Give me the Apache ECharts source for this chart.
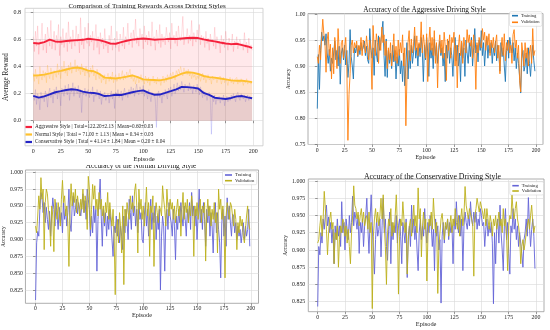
<!DOCTYPE html>
<html><head><meta charset="utf-8">
<script src="https://cdn.jsdelivr.net/npm/echarts@6/dist/echarts.min.js"></script>
<style>html,body{margin:0;padding:0;background:#fff}#c{width:550px;height:330px}</style>
</head><body><div id="c"></div>
<script>
// ---------- Panel 1 : rewards ----------
const rewardTicks = [0, 0.2, 0.4, 0.6, 0.8];
const episodeTicks = [0, 25, 50, 75, 100, 125, 150, 175, 200];
const smoothEpisodes = [0,5,10,15,20,25,30,35,40,45,50,55,60,65,70,75,80,85,90,95,100,105,110,115,120,125,130,135,140,145,150,155,160,165,170,175,180,185,190,195,199];
const aggSmooth = [0.573,0.570,0.580,0.598,0.585,0.583,0.588,0.592,0.595,0.597,0.605,0.600,0.595,0.583,0.570,0.568,0.580,0.590,0.598,0.603,0.607,0.603,0.598,0.600,0.602,0.605,0.603,0.607,0.610,0.612,0.610,0.600,0.592,0.585,0.577,0.570,0.565,0.568,0.558,0.548,0.537];
const norSmooth = [0.334,0.336,0.340,0.349,0.360,0.368,0.378,0.388,0.393,0.385,0.370,0.365,0.345,0.318,0.315,0.312,0.318,0.325,0.334,0.322,0.305,0.302,0.300,0.298,0.305,0.315,0.330,0.348,0.358,0.355,0.345,0.330,0.322,0.318,0.312,0.305,0.298,0.295,0.295,0.290,0.285];
const conSmooth = [0.183,0.170,0.180,0.195,0.210,0.218,0.227,0.232,0.228,0.215,0.207,0.205,0.197,0.182,0.185,0.192,0.190,0.200,0.210,0.218,0.224,0.205,0.192,0.193,0.205,0.218,0.232,0.250,0.248,0.244,0.238,0.205,0.190,0.170,0.165,0.160,0.168,0.180,0.182,0.172,0.166];
const aggRaw = [
0.62,0.51,0.66,0.55,0.70,0.49,0.60,0.58,0.72,0.52,
0.57,0.64,0.50,0.69,0.61,0.55,0.74,0.53,0.59,0.66,
0.52,0.63,0.57,0.71,0.48,0.62,0.56,0.68,0.54,0.60,
0.65,0.51,0.73,0.57,0.62,0.53,0.67,0.59,0.55,0.70,
0.58,0.64,0.50,0.76,0.56,0.61,0.53,0.69,0.60,0.57,
0.72,0.55,0.63,0.58,0.66,0.52,0.60,0.71,0.54,0.62,
0.49,0.65,0.57,0.61,0.53,0.68,0.55,0.59,0.50,0.63,
0.56,0.70,0.52,0.58,0.61,0.54,0.66,0.57,0.51,0.64,
0.59,0.55,0.69,0.53,0.62,0.58,0.72,0.56,0.60,0.65,
0.54,0.67,0.59,0.75,0.57,0.62,0.55,0.68,0.60,0.64,
0.53,0.70,0.58,0.63,0.56,0.66,0.61,0.55,0.73,0.59,
0.62,0.52,0.67,0.60,0.57,0.71,0.54,0.64,0.58,0.62,
0.56,0.69,0.61,0.58,0.65,0.53,0.72,0.60,0.63,0.57,
0.66,0.55,0.70,0.61,0.59,0.64,0.77,0.56,0.62,0.60,
0.68,0.57,0.63,0.59,0.74,0.55,0.65,0.61,0.58,0.67,
0.60,0.71,0.56,0.63,0.59,0.62,0.54,0.66,0.57,0.61,
0.52,0.64,0.58,0.60,0.55,0.69,0.53,0.62,0.57,0.59,
0.50,0.63,0.56,0.60,0.54,0.66,0.58,0.52,0.61,0.57,
0.55,0.64,0.51,0.59,0.56,0.62,0.53,0.58,0.60,0.55,
0.57,0.52,0.65,0.54,0.58,0.50,0.61,0.53,0.56,0.52];
const norRaw = [
0.35,0.29,0.38,0.31,0.34,0.27,0.40,0.33,0.30,0.37,
0.32,0.36,0.28,0.41,0.34,0.31,0.39,0.35,0.30,0.37,
0.36,0.32,0.42,0.34,0.38,0.31,0.40,0.36,0.44,0.35,
0.39,0.33,0.41,0.37,0.43,0.35,0.40,0.38,0.45,0.36,
0.41,0.37,0.39,0.34,0.42,0.36,0.38,0.33,0.40,0.35,
0.37,0.32,0.39,0.35,0.41,0.33,0.36,0.30,0.38,0.34,
0.31,0.35,0.28,0.33,0.30,0.34,0.27,0.32,0.35,0.29,
0.33,0.30,0.36,0.28,0.32,0.34,0.29,0.31,0.35,0.30,
0.33,0.37,0.30,0.34,0.31,0.36,0.32,0.35,0.38,0.31,
0.34,0.29,0.32,0.27,0.31,0.33,0.28,0.30,0.34,0.29,
0.31,0.27,0.33,0.30,0.28,0.32,0.26,0.31,0.29,0.33,
0.28,0.30,0.27,0.32,0.29,0.31,0.26,0.30,0.33,0.28,
0.32,0.29,0.34,0.31,0.30,0.35,0.32,0.36,0.33,0.30,
0.37,0.34,0.38,0.35,0.40,0.36,0.33,0.39,0.35,0.37,
0.34,0.38,0.33,0.36,0.31,0.35,0.32,0.34,0.30,0.33,
0.31,0.34,0.29,0.32,0.35,0.30,0.33,0.28,0.31,0.34,
0.30,0.32,0.27,0.33,0.30,0.29,0.32,0.28,0.31,0.30,
0.33,0.27,0.30,0.32,0.28,0.31,0.29,0.26,0.30,0.32,
0.28,0.31,0.27,0.30,0.29,0.32,0.27,0.30,0.28,0.31,
0.29,0.26,0.30,0.28,0.31,0.27,0.29,0.30,0.27,0.28];
const conRaw = [
0.19,0.15,0.23,0.12,0.20,0.17,0.08,0.21,0.16,0.19,
0.14,0.22,0.18,0.10,0.20,0.24,0.17,0.21,0.13,0.23,
0.19,0.25,0.16,0.22,0.20,0.11,0.24,0.21,0.18,0.26,
0.22,0.19,0.27,0.15,0.24,0.21,0.28,0.18,0.25,0.22,
0.20,0.26,0.17,0.23,0.06,0.22,0.19,0.24,0.18,0.21,
0.23,0.17,0.22,0.19,0.25,0.14,0.21,0.18,0.23,0.20,
0.16,0.22,0.12,0.19,0.17,0.21,0.15,0.18,0.20,0.13,
0.19,0.22,0.16,0.20,0.09,0.21,0.18,0.23,0.17,0.19,
0.22,0.15,0.20,0.24,0.18,0.21,0.17,0.23,0.19,0.25,
0.20,0.24,0.18,0.22,0.27,0.21,0.19,0.25,0.23,0.20,
0.26,0.18,0.22,0.20,0.16,0.23,0.19,0.14,0.21,0.18,
0.20,0.15,-0.05,0.19,0.22,0.17,0.20,0.13,0.21,0.18,
0.23,0.19,0.16,0.24,0.21,0.25,0.18,0.22,0.27,0.20,
0.24,0.28,0.22,0.26,0.23,0.29,0.25,0.21,0.27,0.24,
0.26,0.22,0.28,0.23,0.25,0.20,0.26,0.24,0.21,0.27,
0.23,0.19,0.25,0.21,0.17,0.22,0.18,0.20,0.15,0.19,
0.21,0.16,-0.10,0.18,0.14,0.19,0.12,0.17,0.15,0.18,
0.13,0.17,0.15,0.19,0.11,0.16,0.18,0.14,0.17,0.15,
0.19,0.16,0.20,0.17,0.14,0.19,0.21,0.17,0.15,0.20,
0.18,0.16,0.19,0.14,0.17,0.19,0.15,0.18,0.16,0.17];
const rewardLegend = [
 'Aggressive Style | Total=122.20±2.13 | Mean=0.60±0.03',
 'Normal Style | Total = 71.00 ± 1.13 | Mean = 0.34 ± 0.03',
 'Conservative Style | Total = 41.14 ± 1.84 | Mean = 0.20 ± 0.04'];

// ---------- Panel 2 : aggressive accuracy ----------
const aggTicks = [0.75, 0.80, 0.85, 0.90, 0.95, 1.00];
const aggTrain = [
0.818,0.922,0.855,0.930,0.965,0.948,0.958,0.940,0.962,0.925,
0.905,0.932,0.890,0.915,0.905,0.925,0.948,0.912,0.930,0.900,
0.938,0.865,0.925,0.935,0.912,0.940,0.902,0.930,0.878,0.905,
0.970,0.918,0.900,0.875,0.935,0.925,0.940,0.918,0.938,0.922,
0.945,0.930,0.935,0.948,0.920,0.938,0.912,0.905,0.972,0.935,
0.915,0.935,0.882,0.950,0.925,0.908,0.958,0.930,0.945,0.965,
0.986,0.920,0.880,0.952,0.878,0.930,0.905,0.925,0.895,0.940,
0.908,0.930,0.875,0.918,0.900,0.932,0.885,0.910,0.870,0.925,
0.862,0.900,0.945,0.875,0.930,0.895,0.940,0.905,0.925,0.958,
0.915,0.935,0.900,0.942,0.918,0.955,0.930,0.870,0.940,0.912,
0.955,0.925,0.880,0.945,0.915,0.935,0.895,0.952,0.920,0.940,
0.905,0.930,0.948,0.920,0.935,0.900,0.925,0.870,0.940,0.915,
0.948,0.905,0.935,0.920,0.880,0.932,0.955,0.910,0.940,0.900,
0.925,0.870,0.945,0.915,0.935,0.880,0.950,0.925,0.905,0.945,
0.918,0.955,0.900,0.935,0.972,0.925,0.940,0.908,0.950,0.930,
0.968,0.920,0.945,0.900,0.935,0.955,0.915,0.940,0.925,0.945,
0.905,0.935,0.920,0.948,0.910,0.940,0.925,0.890,0.945,0.918,
0.935,0.900,0.870,0.930,0.950,0.915,0.955,0.940,0.925,0.945,
0.910,0.935,0.895,0.925,0.905,0.880,0.848,0.915,0.930,0.890,
0.900,0.925,0.885,0.935,0.905,0.880,0.915,0.940,0.910,0.890];
const aggVal = [
0.918,0.905,0.940,0.912,0.955,0.990,0.962,0.945,0.888,0.950,
0.965,0.920,0.942,0.875,0.935,0.885,0.955,0.928,0.895,0.972,
0.930,0.905,0.945,0.950,0.915,0.935,0.955,0.900,0.757,0.845,
0.885,0.940,0.950,0.925,0.945,0.935,0.948,0.920,0.940,0.930,
0.955,0.920,0.950,0.940,0.925,0.958,0.935,0.912,0.950,0.930,
0.855,0.978,0.935,0.920,0.962,0.945,0.905,0.955,0.930,0.975,
0.945,0.960,0.920,0.948,0.895,0.935,0.912,0.945,0.900,0.928,
0.962,0.910,0.938,0.905,0.950,0.920,0.945,0.925,0.960,0.900,
0.935,0.785,0.880,0.945,0.968,0.910,0.952,0.925,0.940,0.975,
0.930,0.958,0.920,0.945,0.935,0.985,0.925,0.960,0.940,0.915,
0.962,0.870,0.945,0.975,0.930,0.955,0.920,0.968,0.905,0.945,
0.858,0.935,0.960,0.925,0.950,0.915,0.965,0.938,0.872,0.952,
0.930,0.960,0.915,0.955,0.945,0.965,0.900,0.940,0.858,0.935,
0.960,0.920,0.948,0.905,0.955,0.935,0.925,0.970,0.945,0.960,
0.938,0.950,0.915,0.960,0.930,0.855,0.945,0.925,0.955,0.940,
0.935,0.972,0.950,0.965,0.930,0.958,0.940,0.962,0.920,0.950,
0.935,0.955,0.925,0.945,0.960,0.915,0.940,0.885,0.935,0.955,
0.920,0.962,0.910,0.945,0.930,0.950,0.925,0.940,0.905,0.960,
0.970,0.935,0.950,0.915,0.940,0.872,0.850,0.945,0.925,0.900,
0.945,0.915,0.935,0.900,0.925,0.940,0.905,0.972,0.920,0.930];

// ---------- Panel 3 : normal accuracy ----------
const fineTicks = [0.825, 0.850, 0.875, 0.900, 0.925, 0.950, 0.975, 1.000];
const norTrain = [
0.810,0.895,0.912,0.905,0.945,0.970,0.962,0.940,0.955,0.925,
0.948,0.930,0.915,0.942,0.905,0.935,0.962,0.945,0.920,0.955,
0.935,0.915,0.948,0.925,0.940,0.910,0.955,0.930,0.945,0.920,
0.940,0.975,0.925,0.912,0.950,0.965,0.935,0.945,0.960,0.938,
0.955,0.945,0.935,0.950,0.968,0.940,0.958,0.930,0.975,0.960,
0.945,0.905,0.935,0.910,0.950,0.925,0.945,0.853,0.930,0.960,
0.990,0.935,0.890,0.945,0.920,0.940,0.905,0.935,0.915,0.945,
0.925,0.900,0.875,0.920,0.910,0.935,0.905,0.930,0.895,0.920,
0.905,0.885,0.935,0.910,0.945,0.925,0.900,0.960,0.940,0.915,
0.965,0.935,0.950,0.920,0.945,0.910,0.955,0.930,0.940,0.900,
0.895,0.935,0.955,0.920,0.945,0.905,0.935,0.960,0.915,0.940,
0.925,0.950,0.900,0.935,0.915,0.945,0.825,0.905,0.935,0.920,
0.853,0.930,0.945,0.915,0.955,0.935,0.925,0.905,0.945,0.920,
0.870,0.935,0.915,0.945,0.925,0.955,0.935,0.920,0.950,0.930,
0.905,0.945,0.925,0.955,0.915,0.970,0.935,0.950,0.920,0.945,
0.900,0.935,0.975,0.925,0.945,0.915,0.955,0.930,0.890,0.945,
0.925,0.950,0.905,0.940,0.920,0.880,0.935,0.955,0.910,0.940,
0.915,0.895,0.843,0.925,0.945,0.905,0.935,0.890,0.962,0.930,
0.950,0.925,0.905,0.938,0.935,0.910,0.925,0.900,0.920,0.905,
0.915,0.895,0.910,0.925,0.900,0.920,0.905,0.915,0.945,0.890];
const norVal = [
0.920,0.910,0.935,0.965,0.945,0.992,0.960,0.975,0.885,0.955,
0.975,0.968,0.945,0.930,0.890,0.950,0.935,0.882,0.960,0.945,
0.930,0.955,0.940,0.920,0.960,0.988,0.955,0.965,0.935,0.950,
0.925,0.860,0.945,0.983,0.950,0.970,0.955,0.975,0.940,0.965,
0.950,0.935,0.960,0.945,0.975,0.940,0.965,0.955,0.915,0.994,
0.975,0.915,0.945,0.982,0.960,0.980,0.945,0.960,0.935,0.970,
0.945,0.960,0.935,0.950,0.925,0.955,0.940,0.970,0.930,0.955,
0.935,0.920,0.945,0.905,0.818,0.915,0.930,0.895,0.940,0.920,
0.880,0.950,0.833,0.945,0.920,0.955,0.940,0.930,0.965,0.945,
0.955,0.940,0.972,0.983,0.950,0.880,0.975,0.945,0.960,0.930,
0.950,0.920,0.945,0.978,0.935,0.955,0.875,0.950,0.940,0.965,
0.860,0.935,0.955,0.940,0.925,0.950,0.945,0.935,0.980,0.960,
0.945,0.920,0.975,0.950,0.935,0.960,0.945,0.955,0.930,0.950,
0.925,0.945,0.960,0.935,0.950,0.905,0.945,0.970,0.930,0.955,
0.940,0.960,0.925,0.950,0.935,0.965,0.945,0.875,0.950,0.935,
0.955,0.930,0.945,0.960,0.925,0.950,0.940,0.955,0.868,0.935,
0.960,0.935,0.950,0.920,0.945,0.930,0.955,0.925,0.940,0.880,
0.975,0.945,0.960,0.930,0.950,0.925,0.843,0.935,0.955,0.945,
0.930,0.955,0.950,0.935,0.920,0.945,0.930,0.885,0.925,0.910,
0.935,0.920,0.930,0.905,0.895,0.915,0.935,0.950,0.925,0.915];

// ---------- Panel 4 : conservative accuracy ----------
const conTrain = [
0.818,0.905,0.893,0.925,0.910,0.945,0.930,0.950,0.965,0.935,
0.948,0.925,0.940,0.910,0.930,0.880,0.935,0.915,0.945,0.920,
0.935,0.905,0.970,0.925,0.940,0.900,0.945,0.930,0.915,0.950,
0.925,0.940,0.978,0.935,0.955,0.945,0.930,0.950,0.895,0.940,
0.925,0.945,0.905,0.935,0.950,0.975,0.930,0.895,0.945,0.980,
0.935,0.900,0.865,0.915,0.945,0.920,0.930,0.945,0.890,0.935,
0.975,0.925,0.945,0.905,0.885,0.930,0.955,0.880,0.940,0.915,
0.935,0.925,0.950,0.910,0.935,0.945,0.920,0.880,0.940,0.925,
0.910,0.945,0.860,0.920,0.935,0.905,0.965,0.925,0.945,0.915,
0.935,0.900,0.870,0.925,0.945,0.915,0.935,0.920,0.960,0.930,
0.910,0.940,0.925,0.950,0.935,0.905,0.930,0.870,0.945,0.920,
0.935,0.900,0.915,0.823,0.920,0.940,0.910,0.935,0.930,0.945,
0.915,0.940,0.925,0.935,0.880,0.945,0.930,0.970,0.940,0.925,
0.950,0.920,0.945,0.870,0.935,0.955,0.940,0.930,0.950,0.935,
0.970,0.945,0.935,0.955,0.940,0.955,0.930,0.945,0.935,0.960,
0.950,0.935,0.940,0.905,0.930,0.945,0.920,0.935,0.925,0.940,
0.910,0.822,0.925,0.880,0.935,0.945,0.910,0.965,0.925,0.900,
0.870,0.935,0.960,0.915,0.940,0.895,0.865,0.935,0.925,0.960,
0.930,0.945,0.915,0.935,0.905,0.925,0.910,0.895,0.875,0.915,
0.925,0.945,0.920,0.976,0.935,0.905,0.930,0.945,0.920,0.873];
const conVal = [
0.910,0.915,0.935,0.950,0.920,0.945,0.985,0.960,0.930,0.893,
0.925,0.945,0.955,0.930,0.940,0.880,0.925,0.915,0.935,0.875,
0.915,0.935,0.925,0.945,0.940,0.920,0.935,0.910,0.930,0.905,
0.880,0.925,0.950,0.993,0.965,0.960,0.945,0.955,0.935,0.950,
0.960,0.940,0.955,0.935,0.945,0.950,0.930,0.955,0.925,0.940,
0.815,0.920,0.945,0.960,0.940,0.955,0.935,0.950,0.975,0.945,
0.980,0.935,0.905,0.850,0.925,0.945,0.935,0.960,0.920,0.940,
0.925,0.950,0.980,0.935,0.836,0.920,0.945,0.935,0.970,0.945,
0.925,0.940,0.865,0.915,0.935,0.945,0.920,0.940,0.965,0.935,
0.950,0.925,0.990,0.945,0.960,0.890,0.935,0.955,0.930,0.945,
0.855,0.920,0.945,0.935,0.955,0.930,0.975,0.945,0.925,0.940,
0.837,0.905,0.925,0.945,0.953,0.935,0.915,0.940,0.930,0.945,
0.920,0.935,0.950,0.925,0.945,0.935,0.960,0.940,0.930,0.950,
0.920,0.945,0.960,0.935,0.950,0.992,0.965,0.955,0.945,0.960,
0.960,0.945,0.935,0.862,0.950,0.960,0.975,0.965,0.955,0.970,
0.970,0.955,0.945,0.960,0.935,0.960,0.945,0.930,0.950,0.940,
0.920,0.945,0.935,0.950,0.930,0.940,0.955,0.935,0.945,0.925,
0.960,0.935,0.945,0.920,0.870,0.935,0.950,0.945,0.980,0.955,
0.945,0.960,0.970,0.945,0.935,0.920,0.880,0.905,0.915,0.900,
0.910,0.925,0.935,0.945,0.930,0.950,0.965,0.940,0.925,0.935];

// ---------- build ----------
const FONT = '"Liberation Serif","DejaVu Serif",serif';
const pairs = arr => arr.map((v, i) => [i, v]);
const zip = (xs, ys) => xs.map((x, i) => [x, ys[i]]);

function grid(left, top, width, height, border) {
  return {left, top, width, height, show: true, borderColor: border, borderWidth: 0.8, backgroundColor: 'transparent'};
}
function xAx(gi, min, max, nameGap, fs, nfs, margin) {
  return {type: 'value', gridIndex: gi, min, max,
    name: 'Episode', nameLocation: 'middle', nameGap,
    nameTextStyle: {fontFamily: FONT, fontSize: nfs, color: '#222'},
    axisLine: {show: false},
    axisTick: {show: true, customValues: episodeTicks, length: 2.5, lineStyle: {color: '#555', width: 0.6}},
    axisLabel: {customValues: episodeTicks, fontFamily: FONT, fontSize: fs, color: '#222', margin,
      formatter: v => String(Math.round(v))},
    splitLine: {show: true, lineStyle: {color: '#d9d9d9', width: 0.6}}};
}
function yAx(gi, min, max, ticks, digits, name, nameGap, fs, nfs, margin) {
  return {type: 'value', gridIndex: gi, min, max,
    name, nameLocation: 'middle', nameGap,
    nameTextStyle: {fontFamily: FONT, fontSize: nfs, color: '#222'},
    axisLine: {show: false},
    axisTick: {show: true, customValues: ticks, length: 2.5, lineStyle: {color: '#555', width: 0.6}},
    axisLabel: {customValues: ticks, fontFamily: FONT, fontSize: fs, color: '#222', margin,
      formatter: v => v.toFixed(digits)},
    splitLine: {show: true, lineStyle: {color: '#d9d9d9', width: 0.6}}};
}
function rawLine(name, data, color) {
  return {type: 'line', name, xAxisIndex: 0, yAxisIndex: 0, data: pairs(data), showSymbol: false,
    lineStyle: {color, width: 0.75}, itemStyle: {color}, z: 1, silent: true};
}
function smoothLine(name, data, color, fill) {
  return {type: 'line', name, xAxisIndex: 0, yAxisIndex: 0, data: zip(smoothEpisodes, data), showSymbol: false,
    lineStyle: {color, width: 1.9}, itemStyle: {color}, areaStyle: {color: fill, origin: 0}, z: 3, silent: true};
}
function accLine(name, gi, data, color, z) {
  return {type: 'line', name, xAxisIndex: gi, yAxisIndex: gi, data: pairs(data), showSymbol: false,
    lineStyle: {color, width: 1.0, opacity: 0.9}, itemStyle: {color}, z, silent: true};
}
function legend(names, left, top, fs, lh, gap, iw, ih, box) {
  return {data: names, orient: 'vertical', left, top, itemWidth: iw, itemHeight: ih, icon: 'rect',
    itemGap: gap, padding: [1.5, 2.5], selectedMode: false,
    backgroundColor: box ? 'rgba(255,255,255,0.85)' : 'transparent',
    borderColor: box ? '#cccccc' : 'transparent', borderWidth: box ? 0.5 : 0, borderRadius: 1.5,
    formatter: n => n.split('#')[0],
    textStyle: {fontFamily: FONT, fontSize: fs, lineHeight: lh, color: '#222', padding: [0, 0, 0, -2]}};
}
function title(text, left, top, fs) {
  return {text, left, top, textAlign: 'center', padding: 0,
    textStyle: {fontFamily: FONT, fontSize: fs, fontWeight: 'normal', color: '#111'}};
}

const C_TR3 = 'rgb(100,100,215)', C_VA3 = 'rgb(188,176,28)';
const option = {
  animation: false,
  backgroundColor: '#fff',
  title: [
    title('Comparison of Training Rewards Across Driving Styles', 147, 2.6, 7),
    title('Accuracy of the Aggressive Driving Style', 424.5, 6.5, 7.3),
    title('Accuracy of the Normal Driving Style', 141, 162.6, 7.2),
    title('Accuracy of the Conservative Driving Style', 432.5, 172.8, 7.8)
  ],
  grid: [
    grid(25, 8.3, 238, 137.5, '#c8c8c8'),
    grid(308, 13.5, 235, 131, '#9a9a9a'),
    grid(22, 170, 236.5, 133.3, '#9a9a9a'),
    grid(308.3, 179, 235.7, 132.7, '#9a9a9a')
  ],
  xAxis: [
    xAx(0, -7.5, 208.9, 8.5, 6, 6.6, 3),
    xAx(1, -8.5, 206.4, 7.5, 5.8, 6.2, 2.5),
    xAx(2, -9.4, 207.1, 7.5, 5.8, 6.2, 2.5),
    xAx(3, -8.6, 207.3, 7, 5.9, 6.4, 2.5)
  ],
  yAxis: [
    yAx(0, -0.185, 0.8295, rewardTicks, 1, 'Average Reward', 12, 6, 7.2, 4),
    yAx(1, 0.749, 1.001, aggTicks, 2, 'Accuracy', 14, 5.8, 5.4, 2.5),
    yAx(2, 0.8052, 1.0034, fineTicks, 3, 'Accuracy', 12, 5.8, 5.4, 2.5),
    yAx(3, 0.8105, 1.0029, fineTicks, 3, 'Accuracy', 13.5, 5.9, 5.4, 3)
  ],
  legend: [
    legend(rewardLegend, 23, 122.5, 5.2, 6, 1.5, 6.5, 2.2, false),
    legend(['Training#2', 'Validation#2'], 509.5, 11.7, 4.5, 5, 1.6, 6, 1.6, true),
    legend(['Training#3', 'Validation#3'], 222.5, 171, 4.7, 5, 0.7, 7, 1.6, true),
    legend(['Training#4', 'Validation#4'], 509.8, 181.7, 4.7, 5, 0.3, 6.5, 1.6, true)
  ],
  series: [
    rawLine('aggRaw', aggRaw, 'rgba(255,60,80,0.22)'),
    rawLine('norRaw', norRaw, 'rgba(255,180,0,0.26)'),
    rawLine('conRaw', conRaw, 'rgba(60,60,230,0.24)'),
    smoothLine(rewardLegend[0], aggSmooth, '#f5213c', 'rgba(255,40,60,0.15)'),
    smoothLine(rewardLegend[1], norSmooth, '#ffc12e', 'rgba(255,190,40,0.22)'),
    smoothLine(rewardLegend[2], conSmooth, '#2424c4', 'rgba(60,50,210,0.16)'),
    accLine('Training#2', 1, aggTrain, '#1f77b4', 2),
    accLine('Validation#2', 1, aggVal, '#ff7f0e', 3),
    accLine('Training#3', 2, norTrain, C_TR3, 2),
    accLine('Validation#3', 2, norVal, C_VA3, 3),
    accLine('Training#4', 3, conTrain, C_TR3, 2),
    accLine('Validation#4', 3, conVal, C_VA3, 3)
  ],
  graphic: [
    {type: 'rect', shape: {x: 60, y: 161.6, width: 180, height: 3.4}, style: {fill: '#fff'}, z: 1000}
  ]
};
const chart = echarts.init(document.getElementById('c'), null, {renderer: 'canvas'});
chart.setOption(option);
</script>
</body></html>
